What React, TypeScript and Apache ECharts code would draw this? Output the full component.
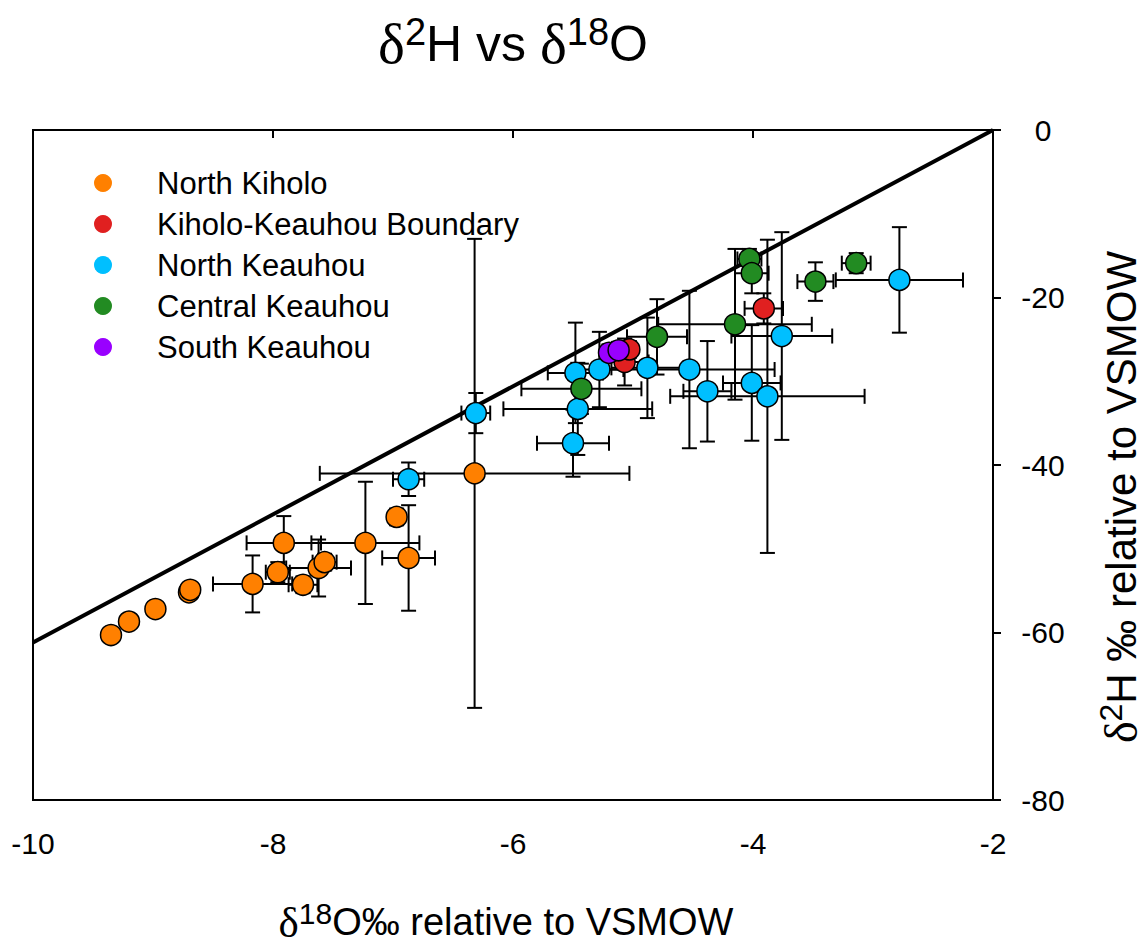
import React, { useEffect, useRef } from "react";
import * as echarts from "echarts";

// [δ18O, δ2H, δ18O error, δ2H error]
const northKiholo: number[][] = [
  [-9.35, -60.3, 0.05, 0.7],
  [-9.2, -58.7, 0.05, 0.7],
  [-8.98, -57.2, 0.05, 0.7],
  [-8.7, -55.2, 0.05, 0.8],
  [-8.69, -54.9, 0.05, 0.8],
  [-8.17, -54.2, 0.33, 3.4],
  [-7.96, -52.8, 0.1, 1.2],
  [-7.91, -49.3, 0.31, 3.2],
  [-7.75, -54.3, 0.12, 1.0],
  [-7.62, -52.3, 0.27, 3.4],
  [-7.57, -51.6, 0.1, 1.0],
  [-7.23, -49.3, 0.45, 7.3],
  [-6.97, -46.2, 0.05, 1.0],
  [-6.87, -51.1, 0.22, 6.3],
  [-6.32, -41.0, 1.29, 28.0],
];
const boundary: number[][] = [
  [-5.07, -27.7, 0.2, 2.8],
  [-5.03, -26.2, 0.05, 1.0],
  [-3.91, -21.3, 0.16, 1.8],
];
const northKeauhou: number[][] = [
  [-6.87, -41.7, 0.13, 2.0],
  [-6.31, -33.8, 0.12, 2.4],
  [-5.5, -37.4, 0.3, 4.0],
  [-5.46, -33.3, 0.62, 5.5],
  [-5.48, -29.0, 0.23, 6.0],
  [-5.28, -28.6, 0.2, 4.5],
  [-4.88, -28.4, 0.3, 6.0],
  [-4.53, -28.6, 0.71, 9.4],
  [-4.38, -31.2, 0.2, 6.0],
  [-4.01, -30.2, 0.24, 6.9],
  [-3.88, -31.8, 0.81, 18.7],
  [-3.76, -24.6, 0.42, 12.4],
  [-2.78, -17.9, 0.53, 6.3],
];
const centralKeauhou: number[][] = [
  [-5.43, -30.9, 0.5, 3.0],
  [-4.8, -24.7, 0.25, 4.5],
  [-4.15, -23.2, 0.64, 9.0],
  [-4.03, -15.4, 0.1, 1.2],
  [-4.01, -17.1, 0.14, 2.4],
  [-3.48, -18.1, 0.15, 2.3],
  [-3.14, -15.9, 0.12, 1.2],
];
const southKeauhou: number[][] = [
  [-5.2, -26.6, 0.05, 1.0],
  [-5.12, -26.3, 0.05, 1.0],
];
const waterLine: number[][] = [
  [-10, -61.2],
  [-2, 0],
];

const groupNames = [
  "North Kiholo",
  "Kiholo-Keauhou Boundary",
  "North Keauhou",
  "Central Keauhou",
  "South Keauhou",
];
const groupColors = ["#FF8000", "#E02020", "#00BFFF", "#228B22", "#9900FF"];
const groupData = [northKiholo, boundary, northKeauhou, centralKeauhou, southKeauhou];

const FONT = "Liberation Sans, Arial, sans-serif";
const DELTA_FONT = "Liberation Serif, DejaVu Serif, serif";

function renderErrorBar(_params: any, api: any) {
  const x = api.value(0);
  const y = api.value(1);
  const ex = api.value(2);
  const ey = api.value(3);
  const c = api.coord([x, y]);
  const l = api.coord([x - ex, y]);
  const r = api.coord([x + ex, y]);
  const t = api.coord([x, y + ey]);
  const b = api.coord([x, y - ey]);
  const cap = 7.5;
  const style = { stroke: "#000", lineWidth: 2 };
  return {
    type: "group",
    children: [
      { type: "line", shape: { x1: l[0], y1: c[1], x2: r[0], y2: c[1] }, style },
      { type: "line", shape: { x1: c[0], y1: t[1], x2: c[0], y2: b[1] }, style },
      { type: "line", shape: { x1: l[0], y1: c[1] - cap, x2: l[0], y2: c[1] + cap }, style },
      { type: "line", shape: { x1: r[0], y1: c[1] - cap, x2: r[0], y2: c[1] + cap }, style },
      { type: "line", shape: { x1: c[0] - cap, y1: t[1], x2: c[0] + cap, y2: t[1] }, style },
      { type: "line", shape: { x1: c[0] - cap, y1: b[1], x2: c[0] + cap, y2: b[1] }, style },
    ],
  };
}

export default function App() {
  const ref = useRef<HTMLDivElement>(null);

  useEffect(() => {
    if (!ref.current) return;
    const chart = echarts.init(ref.current, null, { renderer: "svg" });

    const titleRich = {
      d: { fontFamily: DELTA_FONT, fontSize: 57, color: "#000", fontWeight: "normal" },
      n: { fontFamily: FONT, fontSize: 50, color: "#000", fontWeight: "normal" },
      s: { fontFamily: FONT, fontSize: 38, color: "#000", fontWeight: "normal", padding: [0, 0, 23, 0] },
    };
    const xRich = {
      d: { fontFamily: DELTA_FONT, fontSize: 43, color: "#000" },
      n: { fontFamily: FONT, fontSize: 38, color: "#000" },
      s: { fontFamily: FONT, fontSize: 30, color: "#000", padding: [0, 0, 18, 0] },
    };
    const yRich = {
      d: { fontFamily: DELTA_FONT, fontSize: 46, color: "#000" },
      n: { fontFamily: FONT, fontSize: 42, color: "#000" },
      s: { fontFamily: FONT, fontSize: 32, color: "#000", padding: [0, 0, 20, 0] },
    };

    const errorSeries = groupData.map((d, i) => ({
      type: "custom",
      name: groupNames[i] + " error",
      data: d,
      encode: { x: 0, y: 1 },
      renderItem: renderErrorBar,
      z: 1,
      silent: true,
    }));

    const scatterSeries = groupData.map((d, i) => ({
      type: "scatter",
      name: groupNames[i],
      data: d.map((p) => [p[0], p[1]]),
      symbol: "circle",
      symbolSize: 21,
      itemStyle: { color: groupColors[i], borderColor: "#000", borderWidth: 1.5, opacity: 1 },
      z: 3,
    }));

    chart.setOption({
      animation: false,
      backgroundColor: "#fff",
      title: {
        text: "{d|δ}{s|2}{n|H vs }{d|δ}{s|18}{n|O}",
        left: 508,
        textAlign: "center",
        top: 8,
        textStyle: { rich: titleRich, fontWeight: "normal" },
      },
      legend: {
        orient: "vertical",
        left: 94,
        top: 167,
        padding: 0,
        itemGap: 9,
        itemWidth: 18,
        itemHeight: 18,
        icon: "circle",
        data: groupNames,
        itemStyle: { borderWidth: 0 },
        textStyle: {
          fontFamily: FONT,
          fontSize: 31,
          color: "#000",
          lineHeight: 32,
          padding: [0, 0, 0, 40],
        },
      },
      grid: {
        left: 33,
        right: 155,
        top: 130,
        bottom: 145,
        outerBoundsMode: "none",
        containLabel: false,
        show: true,
        borderColor: "#000",
        borderWidth: 2,
        backgroundColor: "transparent",
      },
      xAxis: {
        type: "value",
        min: -10,
        max: -2,
        interval: 2,
        name: "{d|δ}{s|18}{n|O‰ relative to VSMOW}",
        nameLocation: "middle",
        nameGap: 98,
        nameTextStyle: { rich: xRich, padding: [0, 14, 0, 0] },
        axisLine: { show: true, lineStyle: { color: "#000", width: 2 } },
        axisTick: { show: true, inside: false, length: 8, lineStyle: { color: "#000", width: 2 } },
        axisLabel: { fontFamily: FONT, fontSize: 30, color: "#000", margin: 28 },
        splitLine: { show: false },
      },
      yAxis: {
        type: "value",
        position: "right",
        min: -80,
        max: 0,
        interval: 20,
        name: "{d|δ}{s|2}{n|H ‰ relative to VSMOW}",
        nameLocation: "middle",
        nameRotate: 90,
        nameGap: 102,
        nameTextStyle: { rich: yRich, padding: [0, 64, 0, 0] },
        axisLine: { show: true, lineStyle: { color: "#000", width: 2 } },
        axisTick: { show: true, inside: false, length: 8, lineStyle: { color: "#000", width: 2 } },
        axisLabel: { fontFamily: FONT, fontSize: 30, color: "#000", margin: 50, align: "center" },
        splitLine: { show: false },
      },
      series: [
        ...errorSeries,
        {
          type: "line",
          name: "Water line",
          data: waterLine,
          symbol: "none",
          lineStyle: { color: "#000", width: 4 },
          z: 2,
          silent: true,
        },
        ...scatterSeries,
      ],
    });

    return () => {
      chart.dispose();
    };
  }, []);

  return (
    <div
      style={{
        position: "fixed",
        left: 0,
        top: 0,
        width: 1148,
        height: 945,
        overflow: "hidden",
        background: "#fff",
      }}
    >
      <div ref={ref} style={{ width: 1148, height: 945 }} />
    </div>
  );
}
